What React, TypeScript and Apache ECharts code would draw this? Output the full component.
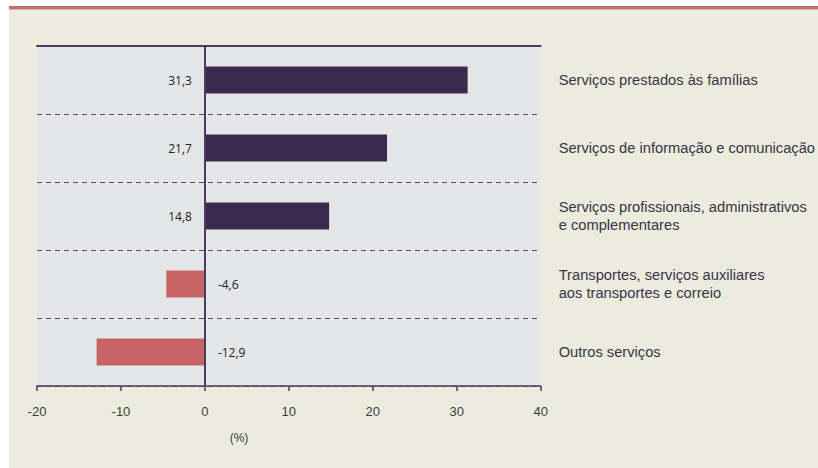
import React, { useEffect, useRef } from "react";
import * as echarts from "echarts";

const categories = [
  "Serviços prestados às famílias",
  "Serviços de informação e comunicação",
  "Serviços profissionais, administrativos\ne complementares",
  "Transportes, serviços auxiliares\naos transportes e correio",
  "Outros serviços",
];
const values = [31.3, 21.7, 14.8, -4.6, -12.9];
const xTicks = { min: -20, max: 40, interval: 10 };
const unitLabel = "(%)";

const POS = "#3A2A4C";
const NEG = "#C86463";
const AXIS = "#4A3C5C";

export default function App() {
  const ref = useRef<HTMLDivElement>(null);
  useEffect(() => {
    if (!ref.current) return;
    const chart = echarts.init(ref.current, undefined, { renderer: "svg" });
    chart.setOption({
      animation: false,
      backgroundColor: "transparent",
      grid: {
        left: 37,
        right: 276,
        top: 46,
        bottom: 82,
        show: true,
        backgroundColor: "#E5E6E8",
        borderWidth: 0,
      },
      xAxis: [
        {
          type: "value",
          min: xTicks.min,
          max: xTicks.max,
          interval: xTicks.interval,
          position: "bottom",
          axisLine: { show: true, onZero: false, lineStyle: { color: AXIS, width: 1.5 } },
          axisTick: { show: true, length: 5, lineStyle: { color: AXIS, width: 1.5 } },
          axisLabel: {
            color: "#3c3c3c",
            fontSize: 13,
            margin: 19,
            fontFamily: "Liberation Sans",
          },
          splitLine: { show: false },
        },
        {
          type: "value",
          min: xTicks.min,
          max: xTicks.max,
          interval: xTicks.interval,
          position: "top",
          axisLine: { show: true, onZero: false, lineStyle: { color: AXIS, width: 2 } },
          axisTick: { show: false },
          axisLabel: { show: false },
          splitLine: { show: false },
        },
      ],
      yAxis: {
        type: "category",
        data: categories,
        inverse: true,
        position: "right",
        axisLine: { show: false },
        axisTick: { show: false },
        axisLabel: {
          align: "left",
          margin: 18,
          color: "#3a3446",
          fontSize: 14.7,
          lineHeight: 18,
          fontFamily: "Liberation Sans",
        },
        splitLine: {
          show: true,
          lineStyle: { type: [5, 4], color: "#5a5068", width: 1 },
        },
      },
      graphic: [
        {
          type: "text",
          x: 239,
          y: 438,
          style: {
            text: unitLabel,
            fill: "#3c3c3c",
            fontSize: 12,
            fontFamily: "Liberation Sans",
            align: "center",
            verticalAlign: "middle",
          },
        },
      ],
      series: [
        {
          type: "bar",
          barWidth: 27,
          data: values.map((v) => ({
            value: v,
            itemStyle: { color: v >= 0 ? POS : NEG },
            label: { position: v >= 0 ? "left" : "right" },
          })),
          label: {
            show: true,
            distance: 13,
            color: "#222",
            fontSize: 12,
            fontFamily: "Open Sans",
            formatter: (p: any) => String(p.value).replace(".", ","),
          },
          markLine: {
            silent: true,
            symbol: "none",
            label: { show: false },
            lineStyle: { color: AXIS, width: 2, type: "solid" },
            data: [{ xAxis: 0 }],
          },
        },
      ],
    });
    return () => chart.dispose();
  }, []);
  return (
    <div style={{ position: "absolute", left: 0, top: 0, width: 818, height: 468, background: "#fff" }}>
      <div style={{ position: "absolute", left: 9, top: 10, width: 809, height: 458, background: "#EBEBDE" }} />
      <div style={{ position: "absolute", left: 9, top: 6, width: 809, height: 3, background: "#C06E6E" }} />
      <div style={{ position: "absolute", left: 9, top: 9, width: 809, height: 1, background: "#DDB3B0" }} />
      <div ref={ref} style={{ position: "absolute", left: 0, top: 0, width: 818, height: 468 }} />
    </div>
  );
}
